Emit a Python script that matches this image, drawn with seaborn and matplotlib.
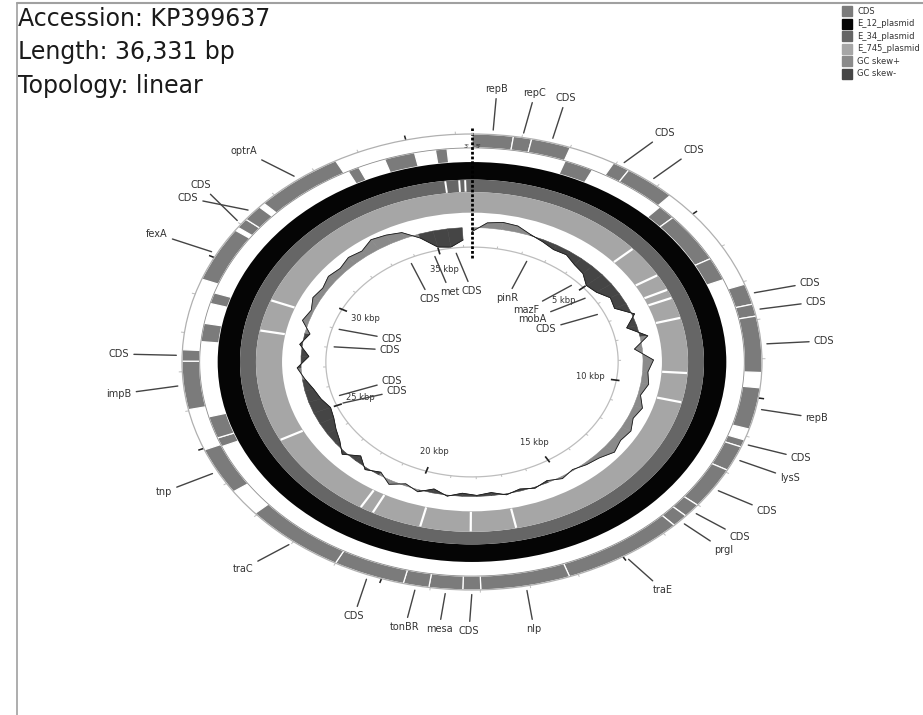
import numpy as np
import matplotlib
matplotlib.use("Agg")
import matplotlib.pyplot as plt
from matplotlib.patches import Rectangle
from matplotlib.lines import Line2D
import seaborn as sns

sns.set_theme(style="white")
plt.rcParams['font.family'] = ['DejaVu Sans']

genome_len = 36331

# forward strand CDS (outer track)
fwd_start = [0, 830, 1200, 2950, 3300, 7070, 7600, 7910, 9740, 11100, 11290, 11940, 13010, 13370,
             13700, 16180, 17990, 18350, 19030, 19550, 21000, 23750, 26030, 27270, 29400, 30900,
             31160, 31700]
fwd_end = [830, 1200, 2000, 3300, 4350, 7600, 7910, 9350, 10810, 11290, 11940, 13010, 13370, 13700,
           16180, 17990, 18350, 19030, 19550, 21000, 23050, 24960, 27270, 27560, 30810, 31160,
           31570, 33500]
fwd_name = ['repB', 'repC', 'CDS', 'CDS', 'CDS', 'CDS', 'CDS', 'CDS', 'repB', 'CDS', 'lysS', 'CDS',
            'CDS', 'prgI', 'traE', 'nlp', 'CDS', 'mesa', 'tonBR', 'CDS', 'traC', 'tnp', 'impB', 'CDS',
            'fexA', 'CDS', 'CDS', 'optrA']

# reverse strand CDS (inner side of backbone)
rev_start = [2020, 4400, 4800, 6170, 24900, 25150, 27800, 28850, 33600, 34440, 35550]
rev_end = [2650, 4800, 6170, 6800, 25150, 25750, 28300, 29150, 33850, 35100, 35800]
rev_name = ['pinR', 'mazF', 'mobA', 'CDS', 'CDS', 'CDS', 'CDS', 'CDS', 'CDS', 'met', 'CDS']

# BLAST rings: positions without hits
e34_gaps = [35660, 36010, 36160]
e745_gaps = [4860, 5980, 6540, 6840, 7560, 9460, 10470, 16970, 18200, 19570, 20930, 21300,
             24490, 28330, 29400]

# GC skew, one value per 500 bp window
skew_step = 500
skew_val = [-0.2, 0.25, 0.35, 0.3, 0.05, -0.1, -0.25, -0.2, -0.4, -0.5, -0.8, -0.7, -0.4, -0.5,
            0.1, -0.4, 0.3, -0.3, 0.4, 0.2, 0.3, 0.1, 0.35, 0.2, 0.4, 0.3, 0.45, 0.2, 0.1, -0.05,
            0.1, -0.1, 0.05, -0.1, 0.05, -0.15, -0.05, -0.15, 0.05, -0.2, 0.1, -0.1, 0.2, -0.15,
            0.1, -0.3, 0.15, -0.2, -0.4, -0.6, -0.7, -0.5, -0.35, -0.1, 0.15, -0.3, 0.1, -0.2,
            0.25, 0.1, 0.3, 0.2, 0.35, 0.25, 0.4, 0.3, 0.55, 0.45, 0.3, -0.2, -0.8, -0.9, -0.6]

ruler_kbp = [5, 10, 15, 20, 25, 30, 35]

# label layout (text centre in image pixels), same order as the features
fwd_label_xy = [(497, 89), (535, 93), (566, 98), (665, 133), (694, 150), (810, 283), (816, 302),
                (824, 341), (817, 418), (801, 458), (790, 478), (767, 511), (740, 537), (724, 550),
                (663, 590), (534, 629), (469, 631), (439, 629), (405, 627), (354, 616), (243, 569),
                (164, 492), (119, 394), (119, 354), (157, 234), (201, 185), (188, 198), (244, 151)]
rev_label_xy = [(507, 298), (526, 310), (532, 319), (546, 329), (397, 391), (392, 381), (390, 350),
                (392, 339), (430, 299), (450, 292), (472, 291)]

legend_names = ['CDS', 'E_12_plasmid', 'E_34_plasmid', 'E_745_plasmid', 'GC skew+', 'GC skew-']
colors = {'CDS': '#7b7b7b', 'E_12_plasmid': '#050505', 'E_34_plasmid': '#666666',
          'E_745_plasmid': '#a6a6a6', 'GC skew+': '#8a8a8a', 'GC skew-': '#454545'}

W, H = 923, 715


def ang(pos):
    return np.asarray(pos, dtype=float) / genome_len * 2 * np.pi


fig = plt.figure(figsize=(W / 100, H / 100), dpi=100)
ax = fig.add_axes([182 / W, 125 / H, 580 / W, 456 / H], projection='polar')
ax.set_aspect('auto')
ax.set_theta_zero_location('N')
ax.set_theta_direction(-1)
ax.set_ylim(0, 1)
ax.grid(False)
ax.set_xticks([])
ax.set_yticks([])
ax.spines['polar'].set_color('#b0b0b0')
ax.spines['polar'].set_linewidth(0.9)

# feature tracks
fs, fe = ang(fwd_start), ang(fwd_end)
ax.bar((fs + fe) / 2, 0.061, width=fe - fs, bottom=0.939, color=colors['CDS'],
       edgecolor='white', linewidth=0.9)
rs, re = ang(rev_start), ang(rev_end)
ax.bar((rs + re) / 2, 0.062, width=re - rs, bottom=0.877, color=colors['CDS'],
       edgecolor='white', linewidth=0.9)

circ = np.linspace(0, 2 * np.pi, 720)
ax.plot(circ, np.full_like(circ, 0.939), color='#8c8c8c', lw=0.6)

# BLAST rings
ax.bar(np.pi, 0.077, width=2 * np.pi, bottom=0.80, color=colors['E_12_plasmid'], linewidth=0)
ax.bar(np.pi, 0.055, width=2 * np.pi, bottom=0.745, color=colors['E_34_plasmid'], linewidth=0)
ax.bar(np.pi, 0.09, width=2 * np.pi, bottom=0.655, color=colors['E_745_plasmid'], linewidth=0)
ax.vlines(ang(e34_gaps), 0.747, 0.798, color='white', lw=1.4)
ax.vlines(ang(e745_gaps), 0.657, 0.743, color='white', lw=1.6)

# GC skew: filled between baseline and curve, one quad per window step
base = 0.59
skew_pos = np.arange(len(skew_val)) * skew_step
th = ang(skew_pos)
rr = base + np.array(skew_val) * 0.09
for i in range(len(th) - 1):
    mid = (rr[i] + rr[i + 1]) / 2
    c = colors['GC skew+'] if mid >= base else colors['GC skew-']
    ax.fill([th[i], th[i], th[i + 1], th[i + 1]], [base, rr[i], rr[i + 1], base],
            facecolor=c, edgecolor=c, lw=0.4)
sns.lineplot(x=th, y=rr, ax=ax, sort=False, estimator=None, color='#1a1a1a', lw=0.6)
ax.set_xlabel('')
ax.set_ylabel('')

# inner ruler
ax.plot(circ, np.full_like(circ, 0.504), color='#bdbdbd', lw=0.9)
ax.vlines(ang(np.arange(1000, genome_len, 1000)), 0.504, 0.514, color='#bdbdbd', lw=0.7)
ax.vlines(ang(np.array(ruler_kbp) * 1000), 0.485, 0.515, color='#222222', lw=1.2)
for k in ruler_kbp:
    ax.text(ang(k * 1000), 0.415, f'{k} kbp', fontsize=6, ha='center', va='center', color='#333333')

# outer ruler ticks
ax.vlines(ang(np.arange(1000, genome_len, 1000)), 1.0, 1.012, color='#bdbdbd', lw=0.7, clip_on=False)
ax.vlines(ang(np.array(ruler_kbp) * 1000), 1.0, 1.02, color='#222222', lw=1.1, clip_on=False)

# linear topology break
ax.plot([0, 0], [0.456, 1.026], color='black', lw=2.0, ls=(0, (1, 0.7)), clip_on=False)
ax.text(-0.022, 0.944, "3'", fontsize=4.5, ha='center', va='center', color='#222222')
ax.text(0.022, 0.944, "5'", fontsize=4.5, ha='center', va='center', color='#222222')

# labels
arrow = dict(arrowstyle='-', color='#444444', lw=1.0, shrinkA=1, shrinkB=0)
for s, e, name, (tx, ty) in zip(fwd_start, fwd_end, fwd_name, fwd_label_xy):
    ax.annotate(name, xy=(ang((s + e) / 2), 1.02), xytext=(tx, H - ty), textcoords='figure pixels',
                ha='center', va='center', fontsize=7, color='#333333', arrowprops=arrow,
                annotation_clip=False)
for s, e, name, (tx, ty) in zip(rev_start, rev_end, rev_name, rev_label_xy):
    ax.annotate(name, xy=(ang((s + e) / 2), 0.48), xytext=(tx, H - ty), textcoords='figure pixels',
                ha='center', va='center', fontsize=7, color='#333333', arrowprops=arrow,
                annotation_clip=False)

# header
fig.text(18 / W, 1 - 19 / H, 'Accession: KP399637', fontsize=17, va='center', color='#1a1a1a')
fig.text(18 / W, 1 - 52 / H, 'Length: 36,331 bp', fontsize=17, va='center', color='#1a1a1a')
fig.text(18 / W, 1 - 86 / H, 'Topology: linear', fontsize=17, va='center', color='#1a1a1a')

# legend
for i, name in enumerate(legend_names):
    yc = 11 + i * 12.6
    fig.patches.append(Rectangle((842 / W, 1 - (yc + 5) / H), 10 / W, 10 / H,
                                 transform=fig.transFigure, color=colors[name]))
    fig.text(857 / W, 1 - yc / H, name, fontsize=6, va='center', color='#333333')

# frame
fig.add_artist(Line2D([17 / W, 17 / W], [0, 1 - 3 / H], color='#a0a0a0', lw=1.2))
fig.add_artist(Line2D([17 / W, 1], [1 - 3 / H, 1 - 3 / H], color='#a0a0a0', lw=1.5))

fig.savefig('out.png', dpi=100)
